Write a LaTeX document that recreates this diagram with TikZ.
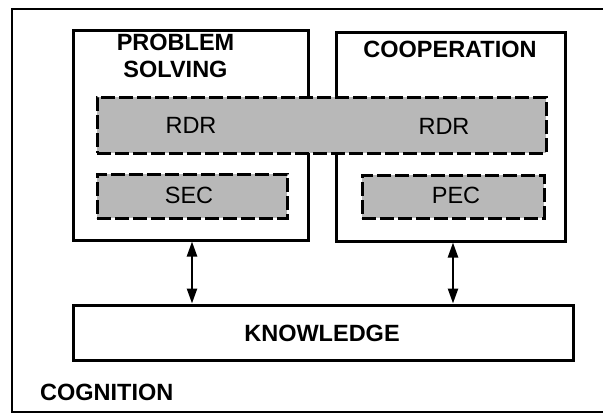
\documentclass[tikz,border=0pt]{standalone}
\usepackage{fontspec}
\setmainfont{Liberation Sans}
\usetikzlibrary{arrows.meta}
\tikzset{
  solidbox/.style={draw=black, line width=3pt, fill=white, rectangle, inner sep=0pt},
  dashbox/.style={draw=black, line width=3pt, dash pattern=on 14pt off 4pt, fill=black!28, rectangle, inner sep=0pt},
  bigtext/.style={font=\fontsize{23.5}{27}\selectfont\bfseries, inner sep=0pt, text=black},
  smalltext/.style={font=\fontsize{23.5}{27}\selectfont, inner sep=0pt, text=black},
  link/.style={line width=2.4pt, {Triangle[length=15pt,width=10pt]}-{Triangle[length=15pt,width=10pt]}},
  frame/.style={line width=2.2pt}
}
\begin{document}
\begin{tikzpicture}[x=1pt,y=-1pt]
\useasboundingbox (0,0) rectangle (603,415);
% outer frame
\coordinate (ftr) at (606,9);
\coordinate (ftl) at (12,9);
\coordinate (fbl) at (12,412);
\coordinate (fbr) at (606,412);
\draw[frame] (ftr) -- (ftl) -- (fbl) -- (fbr);
% main boxes
\node[solidbox, minimum width=235pt, minimum height=210pt] (ps) at (190.5,135) {};
\node[solidbox, minimum width=229pt, minimum height=209pt] (coop) at (450.5,136.5) {};
\node[dashbox, minimum width=449pt, minimum height=56pt] (rdr) at (321.5,125) {};
\node[dashbox, minimum width=190pt, minimum height=44pt] (sec) at (192,196) {};
\node[dashbox, minimum width=182pt, minimum height=43pt] (pec) at (453,196.5) {};
\node[solidbox, minimum width=500pt, minimum height=55pt] (know) at (323,332.5) {};
% labels
\node[bigtext, align=center] (pslab) at (175.5,56) {PROBLEM\\SOLVING};
\node[bigtext] (cooplab) at (450,49) {COOPERATION};
\node[smalltext] (rdr1) at (191,125.5) {RDR};
\node[smalltext] (rdr2) at (444,126) {RDR};
\node[smalltext] (seclab) at (189,195.5) {SEC};
\node[smalltext] (peclab) at (456,195.5) {PEC};
\node[bigtext] (knowlab) at (322,333) {KNOWLEDGE};
\node[bigtext, anchor=west] (cog) at (40,392.5) {COGNITION};
% connectors
\draw[link] (sec |- ps.south) -- (sec |- know.north);
\draw[link] (pec |- coop.south) -- (pec |- know.north);
\end{tikzpicture}
\end{document}
